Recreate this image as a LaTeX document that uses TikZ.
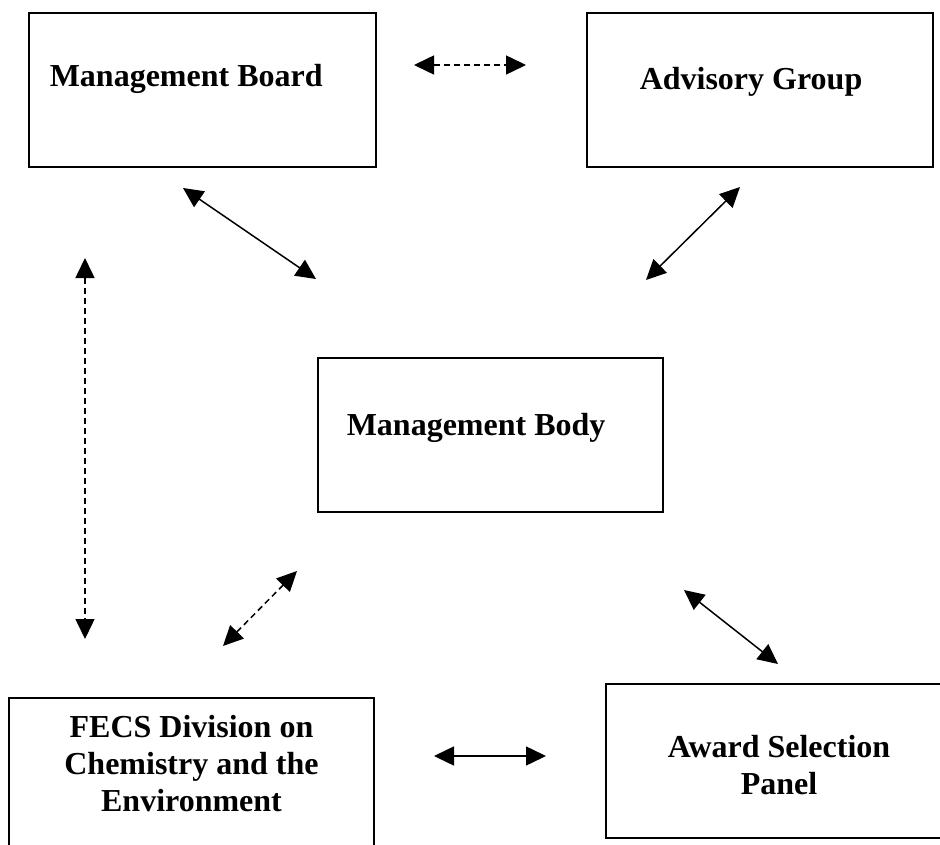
\documentclass[tikz,border=0pt]{standalone}
\usepackage{fontspec}
\setmainfont{Liberation Serif}
\usetikzlibrary{arrows.meta}

\begin{document}
\begin{tikzpicture}[x=1pt,y=-1pt,<->,>={Triangle[length=20pt,width=19pt]},line width=1.5pt,
  box/.style={rectangle,draw,line width=2pt,minimum height=154pt},
  txt/.style={font=\fontsize{32}{37}\selectfont\bfseries,inner sep=0pt,align=center},
  dash line/.style={dash pattern=on 6pt off 4pt}]

  \useasboundingbox (0,0) rectangle (940,845);
  \clip (0,0) rectangle (940,845);

  \node[box,minimum width=347pt] (1) at (202.5,90) {};
  \node[box,minimum width=346pt] (2) at (760,90) {};
  \node[box,minimum width=345pt] (3) at (490.5,435) {};
  \node[box,minimum width=365pt,minimum height=172pt] (4) at (191.5,784) {};
  \node[box,minimum width=354pt] (5) at (783,761) {};

  \node[txt,anchor=base west] (1t) at ([shift={(21,-3)}]1.west) {Management Board};
  \node[txt,anchor=base west] (2t) at ([shift={(53,0)}]2.west) {Advisory Group};
  \node[txt,anchor=base west] (3t) at ([shift={(29,0)}]3.west) {Management Body};
  \node[txt,anchor=base] (4t) at ([shift={(0,114)}]4.north) {FECS Division on\\Chemistry and the\\Environment};
  \node[txt,anchor=base] (5t) at ([shift={(-4,111)}]5.north) {Award Selection\\Panel};

  \coordinate (1a) at ([shift={(37,-25)}]1.east);
  \coordinate (2a) at ([shift={(-60,-25)}]2.west);
  \coordinate (1b) at ([shift={(-19.5,20)}]1.south);
  \coordinate (3a) at ([shift={(-1,-78)}]3.north west);
  \coordinate (2b) at ([shift={(-20,19)}]2.south);
  \coordinate (3b) at ([shift={(-18,-77)}]3.north east);
  \coordinate (1c) at ([shift={(57,90)}]1.south west);
  \coordinate (4a) at ([shift={(77,-58)}]4.north west);
  \coordinate (3c) at ([shift={(-20,58)}]3.south west);
  \coordinate (4b) at ([shift={(31.5,-51)}]4.north);
  \coordinate (3d) at ([shift={(20,77)}]3.south east);
  \coordinate (5a) at ([shift={(-5,-19)}]5.north);
  \coordinate (4c) at ([shift={(59,-28)}]4.east);
  \coordinate (5b) at ([shift={(-59,-5)}]5.west);

  \path
    (1a) edge [dash line] (2a)
    (1b) edge (3a)
    (2b) edge (3b)
    (1c) edge [dash line] (4a)
    (3c) edge [dash line] (4b)
    (3d) edge (5a)
    (4c) edge (5b);
\end{tikzpicture}
\end{document}
